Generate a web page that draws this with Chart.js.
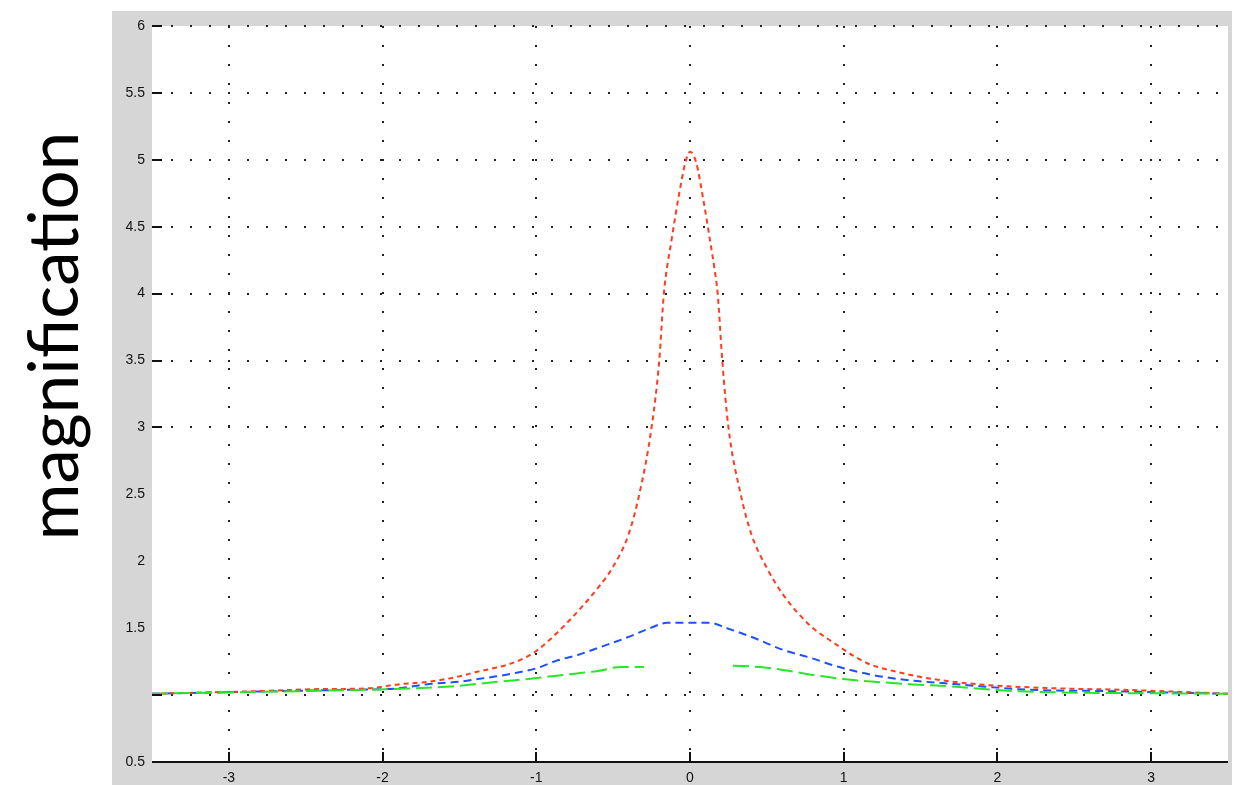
<!DOCTYPE html>
<html>
<head>
<meta charset="utf-8">
<script src="https://cdn.jsdelivr.net/npm/chart.js@4"></script>
<style>
html, body { margin: 0; padding: 0; background: #fff; }
#wrap { width: 1245px; height: 785px; position: relative; }
</style>
</head>
<body>
<div id="wrap"><canvas id="c"></canvas></div>
<script>
// tick values and labels
const xTicks = [-3, -2, -1, 0, 1, 2, 3];
const yTicks = [0.5, 1, 1.5, 2, 2.5, 3, 3.5, 4, 4.5, 5, 5.5, 6];
const yTickLabels = ['0.5', '', '1.5', '2', '2.5', '3', '3.5', '4', '4.5', '5', '5.5', '6'];
const yGridAt = [1, 3, 3.5, 4, 4.5, 5, 5.5, 6];   // only these rows have dotted lines + tick marks

// red curve (sharp peak)
const redX = [-3.5, -2.8, -2.4, -2.1, -1.9, -1.7, -1.5, -1.4, -1.28, -1.18, -1.09, -1.0, -0.8, -0.6, -0.5, -0.4, -0.33, -0.25, -0.2, -0.17, -0.12, -0.07, -0.03,
              0, 0.04, 0.09, 0.13, 0.16, 0.18, 0.21, 0.25, 0.33, 0.4, 0.5, 0.6, 0.78, 0.91, 1.15, 1.36, 1.58, 1.88, 2.08, 2.4, 2.8, 3.5];
const redY = [1.01, 1.03, 1.045, 1.05, 1.08, 1.10, 1.14, 1.17, 1.20, 1.23, 1.27, 1.33, 1.54, 1.8, 1.96, 2.2, 2.5, 3.0, 3.5, 4.0, 4.4, 4.75, 4.98,
              5.06, 4.98, 4.68, 4.4, 4.18, 4.0, 3.5, 3.0, 2.5, 2.2, 1.95, 1.76, 1.52, 1.41, 1.24, 1.17, 1.12, 1.08, 1.065, 1.05, 1.04, 1.01];

// blue curve (low bump)
const blueX = [-3.5, -2.65, -2.2, -1.9, -1.72, -1.5, -1.38, -1.26, -1.16, -1.0, -0.86, -0.73, -0.58, -0.41, -0.26, -0.15,
               0.13, 0.24, 0.41, 0.6, 0.78, 0.97, 1.19, 1.43, 1.64, 1.9, 2.2, 2.7, 3.5];
const blueY = [1.01, 1.03, 1.04, 1.05, 1.08, 1.10, 1.12, 1.14, 1.16, 1.20, 1.26, 1.30, 1.36, 1.43, 1.50, 1.54,
               1.54, 1.50, 1.43, 1.34, 1.28, 1.21, 1.15, 1.11, 1.09, 1.065, 1.04, 1.03, 1.01];

// green curve (broken in the middle)
const greenX = [-3.5, -2.1, -1.8, -1.5, -1.25, -1.05, -0.9, -0.75, -0.6, -0.45, -0.3, 0,
                0.28, 0.45, 0.65, 0.8, 1.0, 1.2, 1.45, 1.7, 2.1, 3.5];
const greenY = [1.01, 1.04, 1.05, 1.07, 1.10, 1.12, 1.14, 1.16, 1.18, 1.21, 1.21, null,
                1.22, 1.21, 1.18, 1.15, 1.12, 1.10, 1.08, 1.065, 1.03, 1.01];

const toPts = (xs, ys) => xs.map((x, i) => ({ x: x, y: ys[i] }));

const panelPlugin = {
    id: 'panel',
    beforeDraw(chart) {
        const { ctx, chartArea: a } = chart;
        ctx.save();
        ctx.fillStyle = '#fff';
        ctx.fillRect(0, 0, chart.width, chart.height);
        ctx.fillStyle = '#d6d6d6';
        ctx.fillRect(112, 11, 1120, chart.height - 11);
        ctx.fillStyle = '#fff';
        ctx.fillRect(a.left, a.top, a.right - a.left, a.bottom - a.top);
        ctx.restore();
    },
    afterDraw(chart) {
        const { ctx, chartArea: a, scales } = chart;
        ctx.save();
        ctx.strokeStyle = '#111';
        ctx.lineWidth = 2;
        // bottom axis line
        ctx.beginPath();
        ctx.moveTo(a.left, a.bottom);
        ctx.lineTo(a.right, a.bottom);
        ctx.stroke();
        // y tick marks (inside)
        yGridAt.forEach(v => {
            const py = Math.round(scales.y.getPixelForValue(v));
            ctx.beginPath();
            ctx.moveTo(a.left, py);
            ctx.lineTo(a.left + 10, py);
            ctx.stroke();
        });
        // x tick marks (inside)
        xTicks.forEach(v => {
            const px = Math.round(scales.x.getPixelForValue(v));
            ctx.beginPath();
            ctx.moveTo(px, a.bottom);
            ctx.lineTo(px, a.bottom - 10);
            ctx.stroke();
        });
        // y axis title
        ctx.fillStyle = '#000';
        ctx.font = '69px Lato';
        ctx.textAlign = 'center';
        ctx.textBaseline = 'alphabetic';
        ctx.translate(78, 336);
        ctx.rotate(-Math.PI / 2);
        ctx.fillText('magnification', 0, 0);
        ctx.restore();
    }
};

new Chart(document.getElementById('c'), {
    type: 'line',
    data: {
        datasets: [
            {
                label: 'green',
                data: toPts(greenX, greenY),
                borderColor: 'rgb(40, 230, 40)',
                borderWidth: 2,
                borderDash: [16, 6],
                pointRadius: 0,
                spanGaps: false
            },
            {
                label: 'red',
                data: toPts(redX, redY),
                borderColor: 'rgb(255, 60, 30)',
                borderWidth: 2,
                borderDash: [5, 4],
                pointRadius: 0
            },
            {
                label: 'blue',
                data: toPts(blueX, blueY),
                borderColor: 'rgb(30, 80, 255)',
                borderWidth: 2,
                borderDash: [8, 5],
                pointRadius: 0
            }
        ]
    },
    options: {
        responsive: true,
        maintainAspectRatio: false,
        animation: false,
        elements: { line: { cubicInterpolationMode: 'monotone' } },
        layout: { padding: { top: 26, right: 17, left: 0, bottom: 0 } },
        plugins: {
            legend: { display: false },
            tooltip: { enabled: false }
        },
        scales: {
            x: {
                type: 'linear',
                min: -3.5,
                max: 3.5,
                afterBuildTicks: s => { s.ticks = xTicks.map(v => ({ value: v })); },
                afterFit: s => { s.height = 23; },
                ticks: {
                    padding: 8,
                    color: '#111',
                    font: { family: 'Liberation Sans', size: 14 },
                    callback: v => String(v)
                },
                grid: { color: '#222', lineWidth: 2, drawTicks: false },
                border: { display: false, dash: [2, 17] }
            },
            y: {
                type: 'linear',
                min: 0.5,
                max: 6,
                afterBuildTicks: s => { s.ticks = yTicks.map(v => ({ value: v })); },
                afterFit: s => { s.width = 152; },
                ticks: {
                    padding: 7,
                    color: '#111',
                    font: { family: 'Liberation Sans', size: 14 },
                    callback: (v, i) => yTickLabels[i]
                },
                grid: {
                    drawTicks: false,
                    lineWidth: 2,
                    color: c => (c.tick && yGridAt.includes(c.tick.value)) ? '#222' : 'rgba(0,0,0,0)'
                },
                border: { display: false, dash: [2, 17] }
            }
        }
    },
    plugins: [panelPlugin]
});
</script>
</body>
</html>
